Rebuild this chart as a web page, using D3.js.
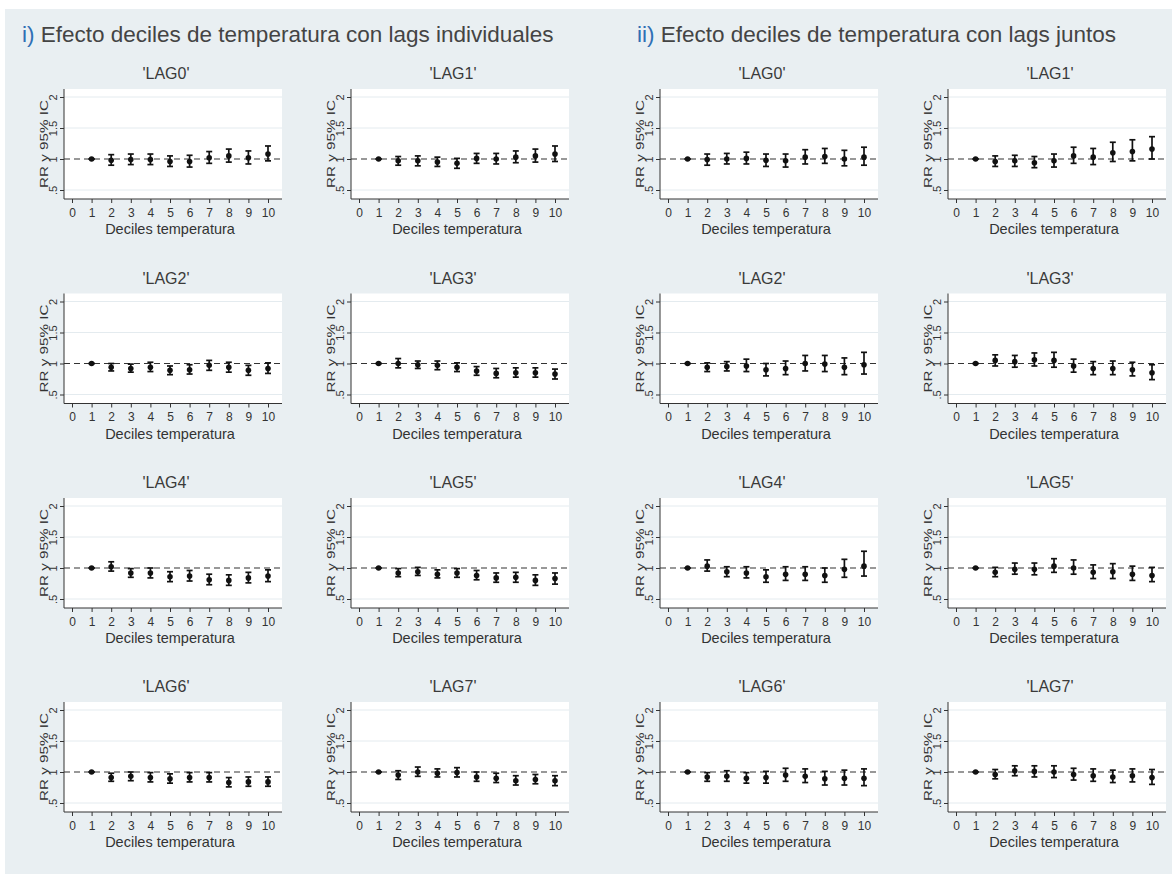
<!DOCTYPE html>
<html lang="es">
<head>
<meta charset="utf-8">
<title>Efecto deciles de temperatura</title>
<script src="https://cdn.jsdelivr.net/npm/d3@7"></script>
<style>
  body { margin: 0; background: #ffffff; }
  svg text { font-family: "Liberation Sans", Arial, sans-serif; fill: #333333; }
  .axis path { display: none; }
  .axis line { stroke: #333333; stroke-width: 1; }
</style>
</head>
<body>
<script>
// ---- data ----
var deciles = [1, 2, 3, 4, 5, 6, 7, 8, 9, 10];
var lagLabels = ["'LAG0'", "'LAG1'", "'LAG2'", "'LAG3'", "'LAG4'", "'LAG5'", "'LAG6'", "'LAG7'"];
var xTicks = [0, 1, 2, 3, 4, 5, 6, 7, 8, 9, 10];
var yTicks = [0.5, 1, 1.5, 2];
var yTickLabels = [".5", "1", "1.5", "2"];
var groupTitles = ["Efecto deciles de temperatura con lags individuales",
                   "Efecto deciles de temperatura con lags juntos"];
var groupMarks = ["i)", "ii)"];

// i) lags individuales: RR, lower CI, upper CI per lag (deciles 1..10)
var indivRR = [
  [1, 0.98, 0.99, 0.99, 0.96, 0.96, 1.02, 1.05, 1.02, 1.08],
  [1, 0.97, 0.97, 0.95, 0.93, 1.01, 1.00, 1.03, 1.05, 1.08],
  [1, 0.94, 0.92, 0.94, 0.89, 0.90, 0.97, 0.94, 0.89, 0.92],
  [1, 1.00, 0.98, 0.97, 0.94, 0.88, 0.84, 0.85, 0.85, 0.83],
  [1, 1.02, 0.92, 0.92, 0.86, 0.87, 0.81, 0.80, 0.84, 0.87],
  [1, 0.92, 0.94, 0.90, 0.92, 0.88, 0.84, 0.85, 0.80, 0.83],
  [1, 0.91, 0.93, 0.91, 0.89, 0.91, 0.91, 0.83, 0.84, 0.84],
  [1, 0.95, 1.00, 0.98, 0.99, 0.92, 0.90, 0.86, 0.88, 0.86]
];
var indivLo = [
  [1, 0.90, 0.91, 0.91, 0.88, 0.87, 0.93, 0.95, 0.92, 0.97],
  [1, 0.90, 0.89, 0.88, 0.85, 0.93, 0.92, 0.94, 0.95, 0.96],
  [1, 0.88, 0.86, 0.87, 0.82, 0.83, 0.89, 0.86, 0.81, 0.84],
  [1, 0.93, 0.92, 0.90, 0.87, 0.81, 0.77, 0.78, 0.78, 0.75],
  [1, 0.95, 0.85, 0.84, 0.78, 0.79, 0.73, 0.72, 0.76, 0.78],
  [1, 0.86, 0.88, 0.84, 0.85, 0.81, 0.77, 0.77, 0.72, 0.74],
  [1, 0.85, 0.86, 0.84, 0.82, 0.84, 0.84, 0.76, 0.77, 0.77],
  [1, 0.88, 0.93, 0.92, 0.92, 0.85, 0.83, 0.79, 0.81, 0.78]
];
var indivHi = [
  [1, 1.07, 1.08, 1.08, 1.05, 1.06, 1.12, 1.16, 1.13, 1.21],
  [1, 1.04, 1.05, 1.03, 1.01, 1.09, 1.09, 1.13, 1.16, 1.21],
  [1, 1.00, 0.99, 1.02, 0.96, 0.98, 1.05, 1.02, 0.97, 1.01],
  [1, 1.08, 1.04, 1.04, 1.01, 0.95, 0.92, 0.93, 0.93, 0.91],
  [1, 1.10, 0.99, 1.00, 0.94, 0.96, 0.90, 0.89, 0.93, 0.97],
  [1, 0.99, 1.01, 0.97, 0.99, 0.96, 0.92, 0.93, 0.89, 0.92],
  [1, 0.98, 1.00, 0.99, 0.97, 0.99, 0.99, 0.91, 0.92, 0.92],
  [1, 1.02, 1.08, 1.05, 1.07, 1.00, 0.98, 0.94, 0.96, 0.94]
];

// ii) lags juntos
var jointRR = [
  [1, 0.99, 1.00, 1.01, 0.98, 0.97, 1.03, 1.04, 1.00, 1.03],
  [1, 0.96, 0.97, 0.94, 0.97, 1.05, 1.03, 1.10, 1.12, 1.16],
  [1, 0.94, 0.95, 0.96, 0.90, 0.92, 1.00, 0.99, 0.94, 0.98],
  [1, 1.05, 1.03, 1.06, 1.05, 0.96, 0.92, 0.92, 0.90, 0.85],
  [1, 1.03, 0.94, 0.92, 0.86, 0.90, 0.90, 0.88, 0.98, 1.03],
  [1, 0.93, 0.98, 0.98, 1.03, 1.00, 0.93, 0.94, 0.90, 0.88],
  [1, 0.92, 0.93, 0.90, 0.91, 0.95, 0.93, 0.89, 0.90, 0.90],
  [1, 0.96, 1.02, 1.01, 1.00, 0.96, 0.94, 0.92, 0.94, 0.91]
];
var jointLo = [
  [1, 0.90, 0.92, 0.92, 0.88, 0.87, 0.92, 0.93, 0.89, 0.90],
  [1, 0.88, 0.88, 0.86, 0.87, 0.93, 0.91, 0.96, 0.97, 1.00],
  [1, 0.87, 0.88, 0.87, 0.80, 0.82, 0.88, 0.87, 0.82, 0.83],
  [1, 0.96, 0.94, 0.96, 0.94, 0.86, 0.82, 0.82, 0.80, 0.74],
  [1, 0.95, 0.86, 0.84, 0.77, 0.80, 0.80, 0.77, 0.85, 0.87],
  [1, 0.86, 0.90, 0.89, 0.93, 0.90, 0.83, 0.83, 0.80, 0.78],
  [1, 0.85, 0.85, 0.82, 0.82, 0.85, 0.83, 0.79, 0.79, 0.78],
  [1, 0.89, 0.94, 0.92, 0.91, 0.87, 0.85, 0.83, 0.84, 0.80]
];
var jointHi = [
  [1, 1.08, 1.09, 1.11, 1.08, 1.08, 1.15, 1.17, 1.14, 1.19],
  [1, 1.05, 1.06, 1.04, 1.08, 1.19, 1.17, 1.27, 1.31, 1.36],
  [1, 1.01, 1.03, 1.07, 1.00, 1.04, 1.13, 1.13, 1.09, 1.18],
  [1, 1.14, 1.13, 1.17, 1.18, 1.07, 1.03, 1.04, 1.02, 0.98],
  [1, 1.13, 1.02, 1.02, 0.97, 1.02, 1.02, 1.00, 1.14, 1.27],
  [1, 1.01, 1.08, 1.08, 1.15, 1.13, 1.05, 1.07, 1.03, 1.01],
  [1, 0.99, 1.02, 0.99, 1.01, 1.06, 1.05, 1.01, 1.03, 1.05],
  [1, 1.04, 1.10, 1.10, 1.10, 1.06, 1.05, 1.03, 1.05, 1.04]
];

// ---- layout ----
var W = 1172, H = 874;
var colX = [64, 351, 660, 948];        // y axis line of each panel column
var rowOne = [159, 363.5, 568, 772];   // pixel row of RR = 1 in each panel row
var plotW = 218;

var svg = d3.select("body").append("svg")
    .attr("width", W)
    .attr("height", H);

// grey graph region
svg.append("rect")
    .attr("x", 5).attr("y", 9)
    .attr("width", W - 5).attr("height", H - 9)
    .attr("fill", "#e9eff2");

// group headers
[0, 1].forEach(function(g) {
    var t = svg.append("text")
        .attr("x", g == 0 ? 22 : 637)
        .attr("y", 42)
        .style("font-size", "22.5px");
    t.append("tspan").style("fill", "#2f6fb5").text(groupMarks[g] + " ");
    t.append("tspan").style("fill", "#444444").text(groupTitles[g]);
});

function drawPanel(left, base, title, rr, lo, hi) {
    var top = base - 70, bottom = base + 40;

    var x = d3.scaleLinear().domain([0, 10]).range([left + 8, left + 204]);
    var y = d3.scaleLinear().domain([0.5, 2]).range([base + 31, base - 62]);

    var p = svg.append("g").attr("class", "panel");

    // white plot region
    p.append("rect")
        .attr("x", left).attr("y", top)
        .attr("width", plotW).attr("height", bottom - top)
        .attr("fill", "#ffffff");

    // light gridlines
    p.selectAll(".grid")
        .data(yTicks.filter(function(d) { return d != 1; }))
        .enter().append("line")
        .attr("x1", left).attr("x2", left + plotW)
        .attr("y1", function(d) { return y(d); })
        .attr("y2", function(d) { return y(d); })
        .attr("stroke", "#e4ebef")
        .attr("stroke-width", 1);

    // dashed reference at RR = 1
    p.append("line")
        .attr("x1", left).attr("x2", left + plotW + 2)
        .attr("y1", y(1)).attr("y2", y(1))
        .attr("stroke", "#333333")
        .attr("stroke-width", 1.2)
        .attr("stroke-dasharray", "6,4");

    // axis lines
    p.append("line")
        .attr("x1", left).attr("x2", left)
        .attr("y1", top).attr("y2", bottom)
        .attr("stroke", "#333333");
    p.append("line")
        .attr("x1", left).attr("x2", left + plotW)
        .attr("y1", bottom).attr("y2", bottom)
        .attr("stroke", "#333333");

    // y axis, labels rotated like Stata
    var yAxis = d3.axisLeft(y)
        .tickValues(yTicks)
        .tickSize(4)
        .tickSizeOuter(0)
        .tickFormat(function(d, i) { return yTickLabels[i]; });
    var ya = p.append("g")
        .attr("class", "axis")
        .attr("transform", "translate(" + left + ",0)")
        .call(yAxis);
    ya.selectAll("text")
        .attr("x", 0).attr("y", 0).attr("dy", "0.35em")
        .attr("transform", "translate(-11,0) rotate(-90)")
        .style("text-anchor", "middle")
        .style("font-size", "11px")
        .style("fill", "#333333");

    // x axis
    var xAxis = d3.axisBottom(x)
        .tickValues(xTicks)
        .tickSize(4)
        .tickSizeOuter(0);
    var xa = p.append("g")
        .attr("class", "axis")
        .attr("transform", "translate(0," + bottom + ")")
        .call(xAxis);
    xa.selectAll("text")
        .attr("y", 9)
        .style("font-size", "12px")
        .style("fill", "#333333");

    // axis titles
    p.append("text")
        .attr("transform", "translate(" + (left - 20) + "," + ((top + bottom) / 2) + ") rotate(-90)")
        .attr("dy", "0.35em")
        .style("text-anchor", "middle")
        .style("font-size", "11.5px")
        .attr("textLength", 88)
        .attr("lengthAdjust", "spacingAndGlyphs")
        .text("RR y 95% IC");
    p.append("text")
        .attr("x", left + 106)
        .attr("y", base + 75)
        .style("text-anchor", "middle")
        .style("font-size", "14.5px")
        .text("Deciles temperatura");

    // panel title
    p.append("text")
        .attr("x", left + 102)
        .attr("y", base - 80)
        .style("text-anchor", "middle")
        .style("font-size", "16px")
        .style("fill", "#3a3a3a")
        .text(title);

    // error bars with caps and points
    var pts = deciles.map(function(d, i) { return {d: d, rr: rr[i], lo: lo[i], hi: hi[i]}; });
    var bars = p.selectAll(".bar").data(pts).enter().append("g");
    bars.append("line")
        .attr("x1", function(d) { return x(d.d); })
        .attr("x2", function(d) { return x(d.d); })
        .attr("y1", function(d) { return y(d.lo); })
        .attr("y2", function(d) { return y(d.hi); })
        .attr("stroke", "#111111").attr("stroke-width", 1.7);
    ["lo", "hi"].forEach(function(k) {
        bars.append("line")
            .attr("x1", function(d) { return x(d.d) - 3; })
            .attr("x2", function(d) { return x(d.d) + 3; })
            .attr("y1", function(d) { return y(d[k]); })
            .attr("y2", function(d) { return y(d[k]); })
            .attr("stroke", "#111111").attr("stroke-width", 1.7);
    });
    bars.append("circle")
        .attr("cx", function(d) { return x(d.d); })
        .attr("cy", function(d) { return y(d.rr); })
        .attr("r", 2.8)
        .attr("fill", "#111111");
}

for (var g = 0; g < 2; g++) {
    var RR = g == 0 ? indivRR : jointRR;
    var LO = g == 0 ? indivLo : jointLo;
    var HI = g == 0 ? indivHi : jointHi;
    for (var lag = 0; lag < 8; lag++) {
        var col = g * 2 + (lag % 2);
        var row = Math.floor(lag / 2);
        drawPanel(colX[col], rowOne[row], lagLabels[lag], RR[lag], LO[lag], HI[lag]);
    }
}
</script>
</body>
</html>
